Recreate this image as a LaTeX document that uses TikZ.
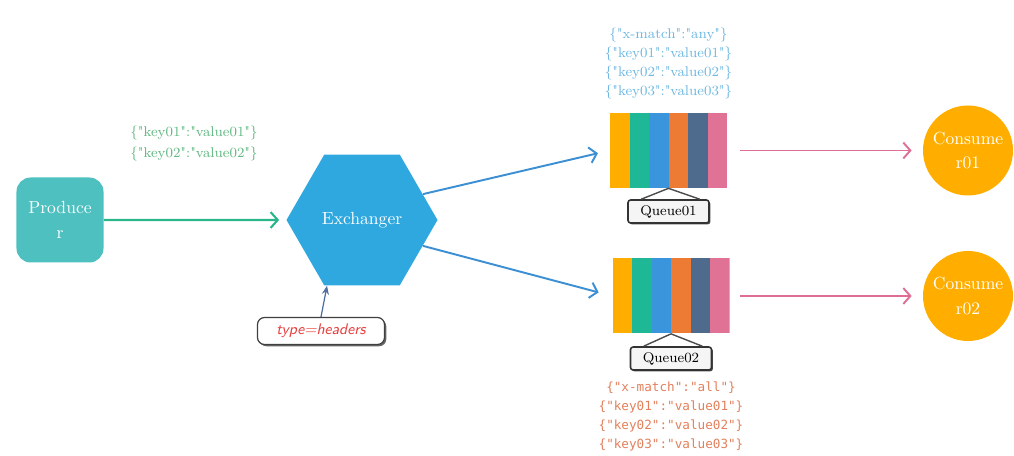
\documentclass[tikz,border=0pt]{standalone}
\usepackage{fontspec}
\newfontfamily\monofont{DejaVu Sans Mono}
\usetikzlibrary{arrows.meta,shapes.geometric,positioning,shadows}

\definecolor{prodteal}{RGB}{78,192,192}
\definecolor{exblue}{RGB}{47,168,224}
\definecolor{arrgreen}{RGB}{43,181,138}
\definecolor{txtgreen}{RGB}{96,184,130}
\definecolor{arrblue}{RGB}{61,143,212}
\definecolor{txtblue}{RGB}{110,184,226}
\definecolor{txtorange}{RGB}{226,128,92}
\definecolor{arrpink}{RGB}{222,112,148}
\definecolor{consorange}{RGB}{255,174,0}
\definecolor{hdrred}{RGB}{232,64,64}
\definecolor{hdrarrow}{RGB}{80,110,160}
\definecolor{qa}{RGB}{255,174,0}
\definecolor{qb}{RGB}{31,184,150}
\definecolor{qc}{RGB}{58,149,220}
\definecolor{qd}{RGB}{238,123,51}
\definecolor{qe}{RGB}{78,107,142}
\definecolor{qf}{RGB}{224,114,149}

% straight double quote
\newcommand{\dq}{\textquotedbl}

\begin{document}
\begin{tikzpicture}[>={Straight Barb[length=4pt,width=9pt]},node distance=3cm,
	producer/.style={rectangle,rounded corners=8pt,fill=prodteal,text=white,minimum width=1.74cm,minimum height=1.7cm,align=center,font=\normalsize},
	exchanger/.style={regular polygon,regular polygon sides=6,fill=exblue,text=white,minimum size=3.02cm,inner sep=0pt},
	queue/.style={rectangle,minimum width=2.34cm,minimum height=1.5cm,inner sep=0pt,
		path picture={\foreach \c [count=\i from 0] in {qa,qb,qc,qd,qe,qf}
			\fill[\c] ([xshift=\i*0.39cm]path picture bounding box.south west) rectangle ++(0.39cm,1.5cm);}},
	qlabel/.style={rectangle,rounded corners=1.5pt,draw=black!80,line width=0.9pt,fill=gray!8,minimum width=1.62cm,minimum height=0.46cm,inner sep=1pt,font=\footnotesize,
		drop shadow={shadow xshift=0.8pt,shadow yshift=-0.8pt,fill=black!70,opacity=1}},
	consumer/.style={circle,fill=consorange,text=white,minimum size=1.8cm,inner sep=0pt,align=center},
	hdrbox/.style={rectangle,rounded corners=4pt,draw=black!75,line width=0.7pt,fill=white,minimum width=2.54cm,minimum height=0.54cm,
		font=\sffamily\itshape\fontsize{8.7}{10}\selectfont,text=hdrred,
		drop shadow={shadow xshift=1pt,shadow yshift=-1pt,fill=black!60,opacity=1}},
	keys/.style={align=center,font=\footnotesize}]

\useasboundingbox (0,0) rectangle (20.28,9.12);

\node[producer]   (prod)   at (1.2,4.72)      {Produce\\[2pt]r};
\node[exchanger]  (ex)     at (7.24,4.72)     {Exchanger};
\node[hdrbox]     (hdr)    at (6.42,2.5)      {type=headers};
\node[keys,text=txtgreen] (pkeys) at (3.88,6.25)
	{\{\dq key01\dq:\dq value01\dq\}\\[3pt]\{\dq key02\dq:\dq value02\dq\}};

\node[queue]      (q1)     at (13.37,6.11)    {};
\node[queue]      (q2)     at (13.42,3.2)     {};
\node[qlabel]     (l1)     [below of=q1,node distance=1.22cm] {Queue01};
\node[qlabel]     (l2)     [below of=q2,node distance=1.25cm] {Queue02};

\node[keys,text=txtblue]   (k1) [above of=q1,node distance=1.74cm]
	{\{\dq x-match\dq:\dq any\dq\}\\[1.2pt]\{\dq key01\dq:\dq value01\dq\}\\[1.2pt]\{\dq key02\dq:\dq value02\dq\}\\[1.2pt]\{\dq key03\dq:\dq value03\dq\}};
\node[keys,text=txtorange,font=\monofont\fontsize{7.2}{10.8}\selectfont] (k2) [below of=q2,node distance=2.41cm]
	{\{"x-match":"all"\}\\\{"key01":"value01"\}\\\{"key02":"value02"\}\\\{"key03":"value03"\}};

\node[consumer]   (c1)     [right of=q1,node distance=5.99cm] {Consume\\[2pt]r01};
\node[consumer]   (c2)     [right of=q2,node distance=5.94cm] {Consume\\[2pt]r02};

% connectors
\draw[->,arrgreen,line width=1.2pt,shorten >=0.14cm] (prod) -- (ex);
\draw[->,arrblue,line width=1.1pt,shorten >=0.24cm] (ex.23) -- (q1.west);
\draw[->,arrblue,line width=1.1pt,shorten >=0.28cm] (ex.-23) -- (q2.west);
\draw[-{Stealth[length=5pt,width=4pt]},hdrarrow,line width=0.7pt] (hdr.north) -- (ex.-118);
\draw[->,arrpink,line width=1.1pt,shorten <=0.26cm,shorten >=0.22cm] (q1.east) -- (c1);
\draw[->,arrpink,line width=1.1pt,shorten <=0.2cm,shorten >=0.22cm] (q2.east) -- (c2);

\draw[black!70,line width=0.8pt] (q1.south) -- ([xshift=0.28cm]l1.north west)
	(q1.south) -- ([xshift=-0.2cm]l1.north east);
\draw[black!70,line width=0.8pt] (q2.south) -- ([xshift=0.28cm]l2.north west)
	(q2.south) -- ([xshift=-0.2cm]l2.north east);

\end{tikzpicture}
\end{document}
